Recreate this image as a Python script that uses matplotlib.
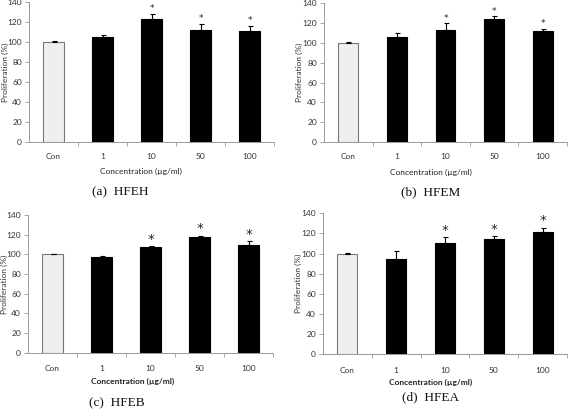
import matplotlib
matplotlib.use("Agg")
import matplotlib.pyplot as plt
import numpy as np

categories = ['Con', '1', '10', '50', '100']
hfeh = [100, 105, 123, 112, 111]
hfeh_err = [0.5, 2, 5, 6, 5]
hfem = [100, 106, 113, 124, 112.5]
hfem_err = [0.5, 4, 7, 3, 2]
hfeb = [100, 97, 107, 117.5, 109]
hfeb_err = [0.5, 1, 1, 1.5, 4.5]
hfea = [100, 95, 111, 114, 121.5]
hfea_err = [0.5, 7.5, 5, 3, 4]
significant = [False, False, True, True, True]
yticks = [0, 20, 40, 60, 80, 100, 120, 140]

W, H = 568, 411
fig = plt.figure(figsize=(W / 100, H / 100), dpi=100)
TF = 'Lato'


def panel(vals, errs, left, right, ytop, ybot, xright, caption, cap_xy,
          ylab_x, xlab_xy, xt_pad, bold_x, star_size):
    ax = fig.add_axes([left / W, 1 - ybot / H, (right - left) / W, (ybot - ytop) / H])
    x = np.arange(len(categories))
    colors = ['#efefef'] + ['black'] * (len(categories) - 1)
    edges = ['#777777'] + ['black'] * (len(categories) - 1)
    ax.bar(x, vals, width=0.41, color=colors, edgecolor=edges, linewidth=0.8, zorder=2)
    ax.errorbar(x, vals, yerr=[np.zeros(len(errs)), errs], fmt='none', ecolor='black',
                elinewidth=0.8, capsize=1.8, capthick=0.8, zorder=3)
    for xi, v, e, s in zip(x, vals, errs, significant):
        if s:
            ax.text(xi, v + e + 0.5, '*', ha='center', va='bottom', fontsize=star_size,
                    family='DejaVu Sans', color='#222222')
    ax.set_xlim(-0.5, xright)
    ax.set_ylim(0, 140)
    ax.set_yticks(yticks)
    ax.set_yticklabels([str(t) for t in yticks], fontsize=6, family=TF, color='#333333')
    ax.set_xticks(x)
    ax.set_xticklabels(categories, fontsize=6, family=TF, color='#333333')
    ax.set_xticks(np.arange(len(categories)) + 0.5, minor=True)
    ax.tick_params(axis='x', which='major', length=0, pad=xt_pad)
    ax.tick_params(axis='x', which='minor', length=3, color='#999999', width=0.6)
    ax.tick_params(axis='y', length=3, color='#999999', width=0.6, pad=2)
    for sp in ['top', 'right']:
        ax.spines[sp].set_visible(False)
    for sp in ['left', 'bottom']:
        ax.spines[sp].set_color('#999999')
        ax.spines[sp].set_linewidth(0.7)
    ax.spines['bottom'].set_zorder(4)
    fig.text(ylab_x / W, 1 - ((ytop + ybot) / 2) / H, 'Proliferation (%)', rotation=90,
             ha='center', va='center', fontsize=6, family=TF, color='#333333')
    fig.text(xlab_xy[0] / W, 1 - xlab_xy[1] / H, 'Concentration (\u00b5g/ml)',
             ha='center', va='center', fontsize=6, family=TF, color='#222222',
             fontweight='bold' if bold_x else 'normal')
    fig.text(cap_xy[0] / W, 1 - cap_xy[1] / H, caption, ha='center', va='center',
             fontsize=9.5, family='Liberation Serif', color='#111111')
    return ax


panel(hfeh, hfeh_err, 29, 274, 2, 142, 4.5, '(a)  HFEH', (120, 192), 5, (141, 171), 8, False, 6.5)
panel(hfem, hfem_err, 324, 567, 3.3, 142, 4.43, '(b)  HFEM', (431, 192), 299, (431, 172), 8, False, 6.5)
panel(hfeb, hfeb_err, 28, 273, 215, 352.7, 4.5, '(c)  HFEB', (117, 403), 4, (133, 381), 9, True, 9.5)
panel(hfea, hfea_err, 323, 567, 213.3, 354.3, 4.45, '(d)  HFEA', (431, 397), 298, (431, 382), 9, True, 9.5)

fig.savefig('out.png', dpi=100)
